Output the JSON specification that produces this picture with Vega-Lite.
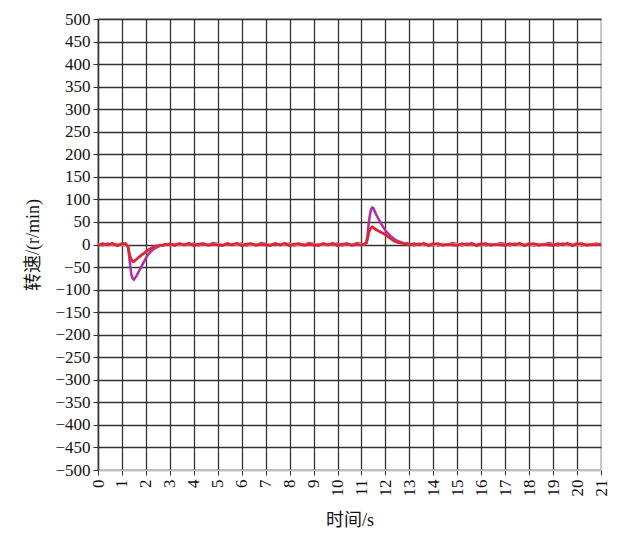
{
  "$schema": "https://vega.github.io/schema/vega-lite/v6.json",
  "width": 503,
  "height": 451,
  "autosize": {"type": "none"},
  "padding": {"left": 98, "top": 19, "right": 35, "bottom": 73},
  "background": "white",
  "config": {
    "view": {"stroke": "#c8c8c8", "strokeWidth": 2},
    "axis": {
      "labelFont": "Liberation Serif",
      "labelFontSize": 17,
      "labelColor": "#111",
      "titleFont": "Liberation Serif, Noto Sans CJK SC",
      "titleFontSize": 18,
      "titleFontWeight": "normal",
      "titleColor": "#111",
      "tickColor": "#333",
      "tickSize": 5,
      "gridOpacity": 1
    }
  },
  "data": {
    "values": [
      {"t": 0, "m": 1, "o": 0, "r": -2},
      {"t": 0.2, "m": -2, "o": 1, "r": 2},
      {"t": 0.4, "m": 2, "o": -1, "r": -1},
      {"t": 0.6, "m": -1, "o": 0, "r": 3},
      {"t": 0.8, "m": 0, "o": 1, "r": -3},
      {"t": 1.0, "m": 2, "o": -1, "r": 1},
      {"t": 1.15, "m": 1, "o": 0, "r": 2},
      {"t": 1.25, "m": -5, "o": -4, "r": -4},
      {"t": 1.3, "m": -25, "o": -18, "r": -18},
      {"t": 1.35, "m": -50, "o": -29, "r": -28},
      {"t": 1.4, "m": -68, "o": -35, "r": -34},
      {"t": 1.45, "m": -76, "o": -38, "r": -37},
      {"t": 1.5, "m": -78, "o": -38, "r": -37},
      {"t": 1.55, "m": -74, "o": -36, "r": -35},
      {"t": 1.6, "m": -70, "o": -34, "r": -33},
      {"t": 1.7, "m": -60, "o": -29, "r": -28},
      {"t": 1.8, "m": -50, "o": -25, "r": -24},
      {"t": 1.9, "m": -40, "o": -21, "r": -20},
      {"t": 2.0, "m": -30, "o": -17, "r": -16},
      {"t": 2.1, "m": -22, "o": -13, "r": -12},
      {"t": 2.2, "m": -16, "o": -9, "r": -9},
      {"t": 2.3, "m": -11, "o": -6, "r": -6},
      {"t": 2.4, "m": -8, "o": -4, "r": -4},
      {"t": 2.5, "m": -5, "o": -3, "r": -3},
      {"t": 2.6, "m": -3, "o": -2, "r": -1},
      {"t": 2.7, "m": -2, "o": -1, "r": -2},
      {"t": 2.8, "m": -1, "o": 0, "r": 1},
      {"t": 2.9, "m": 0, "o": 1, "r": -1},
      {"t": 3.0, "m": 1, "o": 0, "r": 2},
      {"t": 3.2, "m": -2, "o": 1, "r": -2},
      {"t": 3.4, "m": 2, "o": -1, "r": 2},
      {"t": 3.6, "m": -1, "o": 0, "r": -1},
      {"t": 3.8, "m": 0, "o": 1, "r": 3},
      {"t": 4.0, "m": 2, "o": -1, "r": -3},
      {"t": 4.2, "m": -2, "o": 0, "r": 1},
      {"t": 4.4, "m": 1, "o": 1, "r": 2},
      {"t": 4.6, "m": -1, "o": -1, "r": -2},
      {"t": 4.8, "m": 3, "o": 0, "r": 0},
      {"t": 5.0, "m": 1, "o": 1, "r": -1},
      {"t": 5.2, "m": -2, "o": -1, "r": -2},
      {"t": 5.4, "m": 2, "o": 0, "r": 2},
      {"t": 5.6, "m": -1, "o": 1, "r": -1},
      {"t": 5.8, "m": 0, "o": -1, "r": 3},
      {"t": 6.0, "m": 2, "o": 0, "r": -3},
      {"t": 6.2, "m": -2, "o": 1, "r": 1},
      {"t": 6.4, "m": 1, "o": -1, "r": 2},
      {"t": 6.6, "m": -1, "o": 0, "r": -2},
      {"t": 6.8, "m": 3, "o": 1, "r": 0},
      {"t": 7.0, "m": 1, "o": -1, "r": -1},
      {"t": 7.2, "m": -2, "o": 0, "r": -2},
      {"t": 7.4, "m": 2, "o": 1, "r": 2},
      {"t": 7.6, "m": -1, "o": -1, "r": -1},
      {"t": 7.8, "m": 0, "o": 0, "r": 3},
      {"t": 8.0, "m": 2, "o": 1, "r": -3},
      {"t": 8.2, "m": -2, "o": -1, "r": 1},
      {"t": 8.4, "m": 1, "o": 0, "r": 2},
      {"t": 8.6, "m": -1, "o": 1, "r": -2},
      {"t": 8.8, "m": 3, "o": -1, "r": 0},
      {"t": 9.0, "m": 1, "o": 0, "r": -1},
      {"t": 9.2, "m": -2, "o": 1, "r": -2},
      {"t": 9.4, "m": 2, "o": -1, "r": 2},
      {"t": 9.6, "m": -1, "o": 0, "r": -1},
      {"t": 9.8, "m": 0, "o": 1, "r": 3},
      {"t": 10.0, "m": 2, "o": -1, "r": -3},
      {"t": 10.2, "m": -2, "o": 0, "r": 1},
      {"t": 10.4, "m": 1, "o": 1, "r": 2},
      {"t": 10.6, "m": -1, "o": -1, "r": -2},
      {"t": 10.8, "m": 3, "o": 0, "r": 0},
      {"t": 11.0, "m": 1, "o": 1, "r": -1},
      {"t": 11.1, "m": 0, "o": 0, "r": 1},
      {"t": 11.2, "m": 4, "o": 3, "r": 3},
      {"t": 11.25, "m": 20, "o": 12, "r": 12},
      {"t": 11.3, "m": 45, "o": 25, "r": 25},
      {"t": 11.35, "m": 65, "o": 33, "r": 33},
      {"t": 11.4, "m": 78, "o": 37, "r": 37},
      {"t": 11.45, "m": 82, "o": 39, "r": 39},
      {"t": 11.5, "m": 80, "o": 38, "r": 37},
      {"t": 11.55, "m": 74, "o": 36, "r": 35},
      {"t": 11.6, "m": 68, "o": 34, "r": 33},
      {"t": 11.7, "m": 58, "o": 31, "r": 30},
      {"t": 11.8, "m": 48, "o": 28, "r": 27},
      {"t": 11.9, "m": 39, "o": 25, "r": 25},
      {"t": 12.0, "m": 31, "o": 22, "r": 22},
      {"t": 12.1, "m": 25, "o": 18, "r": 18},
      {"t": 12.2, "m": 19, "o": 14, "r": 14},
      {"t": 12.3, "m": 15, "o": 10, "r": 10},
      {"t": 12.4, "m": 11, "o": 7, "r": 7},
      {"t": 12.5, "m": 8, "o": 5, "r": 5},
      {"t": 12.6, "m": 6, "o": 4, "r": 4},
      {"t": 12.7, "m": 4, "o": 3, "r": 3},
      {"t": 12.8, "m": 3, "o": 2, "r": 1},
      {"t": 12.9, "m": 2, "o": 1, "r": 2},
      {"t": 13.0, "m": 1, "o": 0, "r": -1},
      {"t": 13.2, "m": -2, "o": 1, "r": 2},
      {"t": 13.4, "m": 2, "o": -1, "r": -1},
      {"t": 13.6, "m": -1, "o": 0, "r": 3},
      {"t": 13.8, "m": 0, "o": 1, "r": -3},
      {"t": 14.0, "m": 2, "o": -1, "r": 1},
      {"t": 14.2, "m": -2, "o": 0, "r": 2},
      {"t": 14.4, "m": 1, "o": 1, "r": -2},
      {"t": 14.6, "m": -1, "o": -1, "r": 0},
      {"t": 14.8, "m": 3, "o": 0, "r": -1},
      {"t": 15.0, "m": 1, "o": 1, "r": -2},
      {"t": 15.2, "m": -2, "o": -1, "r": 2},
      {"t": 15.4, "m": 2, "o": 0, "r": -1},
      {"t": 15.6, "m": -1, "o": 1, "r": 3},
      {"t": 15.8, "m": 0, "o": -1, "r": -3},
      {"t": 16.0, "m": 2, "o": 0, "r": 1},
      {"t": 16.2, "m": -2, "o": 1, "r": 2},
      {"t": 16.4, "m": 1, "o": -1, "r": -2},
      {"t": 16.6, "m": -1, "o": 0, "r": 0},
      {"t": 16.8, "m": 3, "o": 1, "r": -1},
      {"t": 17.0, "m": 1, "o": -1, "r": -2},
      {"t": 17.2, "m": -2, "o": 0, "r": 2},
      {"t": 17.4, "m": 2, "o": 1, "r": -1},
      {"t": 17.6, "m": -1, "o": -1, "r": 3},
      {"t": 17.8, "m": 0, "o": 0, "r": -3},
      {"t": 18.0, "m": 2, "o": 1, "r": 1},
      {"t": 18.2, "m": -2, "o": -1, "r": 2},
      {"t": 18.4, "m": 1, "o": 0, "r": -2},
      {"t": 18.6, "m": -1, "o": 1, "r": 0},
      {"t": 18.8, "m": 3, "o": -1, "r": -1},
      {"t": 19.0, "m": 1, "o": 0, "r": -2},
      {"t": 19.2, "m": -2, "o": 1, "r": 2},
      {"t": 19.4, "m": 2, "o": -1, "r": -1},
      {"t": 19.6, "m": -1, "o": 0, "r": 3},
      {"t": 19.8, "m": 0, "o": 1, "r": -3},
      {"t": 20.0, "m": 2, "o": -1, "r": 1},
      {"t": 20.2, "m": -2, "o": 0, "r": 2},
      {"t": 20.4, "m": 1, "o": 1, "r": -2},
      {"t": 20.6, "m": -1, "o": -1, "r": 0},
      {"t": 20.8, "m": 2, "o": 0, "r": -1},
      {"t": 21.0, "m": 0, "o": 1, "r": 1}
    ]
  },
  "transform": [
    {"fold": ["m", "o", "r"], "as": ["series", "speed"]}
  ],
  "mark": {"type": "line", "strokeWidth": 2.5, "clip": true},
  "encoding": {
    "x": {
      "field": "t",
      "type": "quantitative",
      "scale": {"domain": [0, 21], "nice": false, "zero": false},
      "axis": {
        "title": "时间/s",
        "values": [0,1,2,3,4,5,6,7,8,9,10,11,12,13,14,15,16,17,18,19,20,21],
        "labelAngle": 270,
        "labelPadding": 4,
        "titlePadding": 15,
        "domainColor": "#bbbbbb",
        "domainWidth": 1.5,
        "gridColor": {"condition": {"test": "datum.value == 21", "value": "#c8c8c8"}, "value": "#333333"},
        "gridWidth": 1.3
      }
    },
    "y": {
      "field": "speed",
      "type": "quantitative",
      "scale": {"domain": [-500, 500], "nice": false},
      "axis": {
        "title": "转速/(r/min)",
        "values": [-500,-450,-400,-350,-300,-250,-200,-150,-100,-50,0,50,100,150,200,250,300,350,400,450,500],
        "labelPadding": 3,
        "titlePadding": 12,
        "domainColor": "#333333",
        "domainWidth": 1.3,
        "gridColor": {"condition": {"test": "datum.value == -500", "value": "#bbbbbb"}, "value": "#333333"},
        "gridWidth": 1.3
      }
    },
    "color": {
      "field": "series",
      "type": "nominal",
      "scale": {"domain": ["m", "o", "r"], "range": ["#b12ea6", "#d98a2b", "#e0203c"]},
      "legend": null
    },
    "order": {"field": "series"}
  }
}
